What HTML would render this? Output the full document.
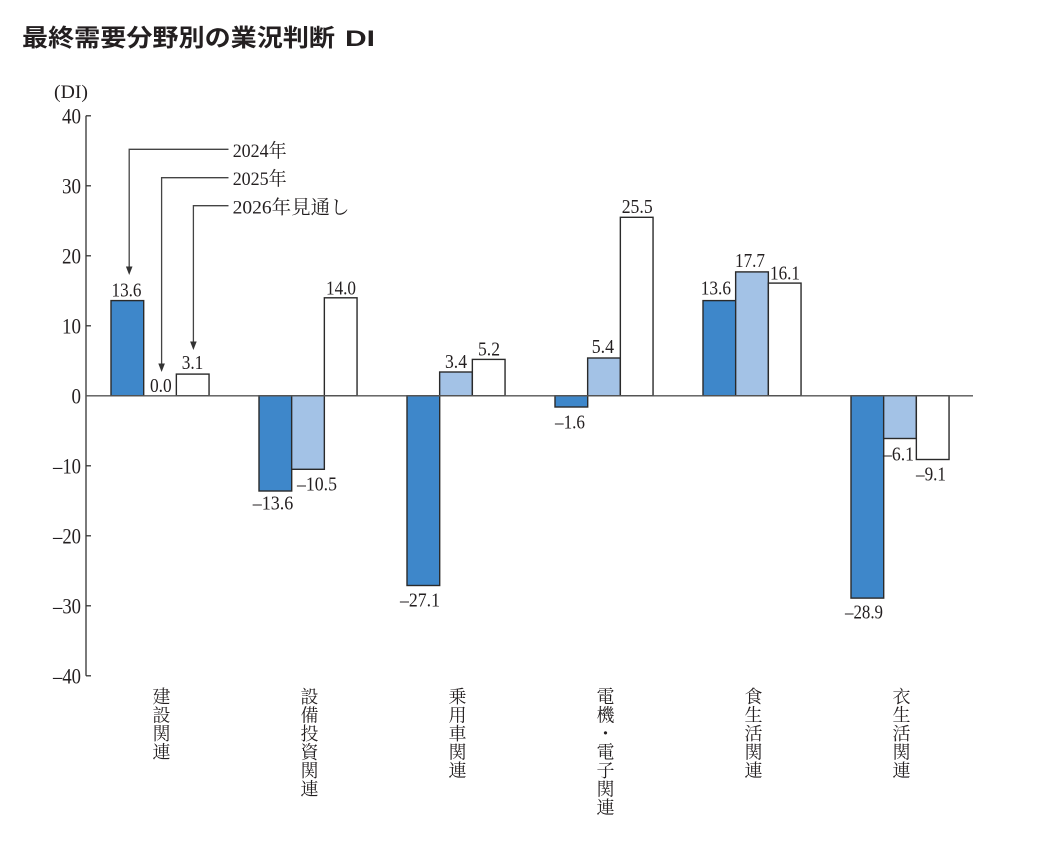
<!DOCTYPE html>
<html>
<head>
<meta charset="utf-8">
<style>
  html, body { margin: 0; padding: 0; background: #ffffff; }
  svg { display: block; }
  .num { font-family: "Liberation Serif", "Noto Serif CJK SC", serif; fill: #231f20; }
  .cat { font-family: "Liberation Serif", "Noto Serif CJK SC", serif; fill: #231f20; font-size: 18px; text-anchor: middle; }
</style>
</head>
<body>
<svg width="1040" height="846" viewBox="0 0 1040 846" xmlns="http://www.w3.org/2000/svg">
  <rect x="0" y="0" width="1040" height="846" fill="#ffffff"/>

  <!-- Title -->
  <text x="22" y="46" font-family="'Noto Sans CJK JP', 'Liberation Sans', sans-serif" font-weight="bold" font-size="24" fill="#231f20" textLength="313" lengthAdjust="spacingAndGlyphs">最終需要分野別の業況判断</text>
  <text x="345" y="46" font-family="'Liberation Sans', sans-serif" font-weight="bold" font-size="22.5" fill="#231f20" textLength="30" lengthAdjust="spacingAndGlyphs">DI</text>

  <!-- unit label -->
  <text class="num" x="54" y="98" font-size="19" textLength="34" lengthAdjust="spacingAndGlyphs">(DI)</text>

  <!-- Y axis -->
  <g stroke="#333" stroke-width="1.3" fill="none">
    <line x1="86" y1="115.8" x2="86" y2="675.8"/>
    <line x1="86" y1="115.8" x2="91" y2="115.8"/>
    <line x1="86" y1="185.8" x2="91" y2="185.8"/>
    <line x1="86" y1="255.8" x2="91" y2="255.8"/>
    <line x1="86" y1="325.8" x2="91" y2="325.8"/>
    <line x1="86" y1="465.8" x2="91" y2="465.8"/>
    <line x1="86" y1="535.8" x2="91" y2="535.8"/>
    <line x1="86" y1="605.8" x2="91" y2="605.8"/>
    <line x1="86" y1="675.8" x2="91" y2="675.8"/>
  </g>
  <g class="num" font-size="22" text-anchor="end">
    <text x="81" y="123.3" textLength="19" lengthAdjust="spacingAndGlyphs">40</text>
    <text x="81" y="193.3" textLength="19" lengthAdjust="spacingAndGlyphs">30</text>
    <text x="81" y="263.3" textLength="19" lengthAdjust="spacingAndGlyphs">20</text>
    <text x="81" y="333.3" textLength="19" lengthAdjust="spacingAndGlyphs">10</text>
    <text x="81" y="403.3" textLength="9.5" lengthAdjust="spacingAndGlyphs">0</text>
    <text x="81" y="473.3" textLength="28" lengthAdjust="spacingAndGlyphs">–10</text>
    <text x="81" y="543.3" textLength="28" lengthAdjust="spacingAndGlyphs">–20</text>
    <text x="81" y="613.3" textLength="28" lengthAdjust="spacingAndGlyphs">–30</text>
    <text x="81" y="683.3" textLength="28" lengthAdjust="spacingAndGlyphs">–40</text>
  </g>

  <!-- Bars -->
  <g stroke="#2a2a2a" stroke-width="1.4">
    <rect x="111" y="300.6" width="32.7" height="95.2" fill="#3e87ca"/>
    <rect x="176.35" y="374.1" width="32.7" height="21.7" fill="#ffffff"/>

    <rect x="259" y="395.8" width="32.7" height="95.2" fill="#3e87ca"/>
    <rect x="291.65" y="395.8" width="32.7" height="73.5" fill="#a3c2e6"/>
    <rect x="324.35" y="297.8" width="32.7" height="98" fill="#ffffff"/>

    <rect x="407" y="395.8" width="32.7" height="189.7" fill="#3e87ca"/>
    <rect x="439.65" y="372" width="32.7" height="23.8" fill="#a3c2e6"/>
    <rect x="472.35" y="359.4" width="32.7" height="36.4" fill="#ffffff"/>

    <rect x="555" y="395.8" width="32.7" height="11.2" fill="#3e87ca"/>
    <rect x="587.65" y="358" width="32.7" height="37.8" fill="#a3c2e6"/>
    <rect x="620.35" y="217.3" width="32.7" height="178.5" fill="#ffffff"/>

    <rect x="703" y="300.6" width="32.7" height="95.2" fill="#3e87ca"/>
    <rect x="735.65" y="271.9" width="32.7" height="123.9" fill="#a3c2e6"/>
    <rect x="768.35" y="283.1" width="32.7" height="112.7" fill="#ffffff"/>

    <rect x="851" y="395.8" width="32.7" height="202.3" fill="#3e87ca"/>
    <rect x="883.65" y="395.8" width="32.7" height="42.7" fill="#a3c2e6"/>
    <rect x="916.35" y="395.8" width="32.7" height="63.7" fill="#ffffff"/>
  </g>

  <!-- zero line -->
  <line x1="86" y1="395.8" x2="973" y2="395.8" stroke="#555" stroke-width="1.4"/>

  <!-- Data labels -->
  <g class="num" font-size="20">
    <text x="111.5" y="296.5" textLength="30" lengthAdjust="spacingAndGlyphs">13.6</text>
    <text x="150" y="392" textLength="21.7" lengthAdjust="spacingAndGlyphs">0.0</text>
    <text x="181.7" y="369" textLength="21.6" lengthAdjust="spacingAndGlyphs">3.1</text>

    <text x="252.7" y="509.5" textLength="40.6" lengthAdjust="spacingAndGlyphs">–13.6</text>
    <text x="297" y="490.5" textLength="40" lengthAdjust="spacingAndGlyphs">–10.5</text>
    <text x="326" y="294.5" textLength="30" lengthAdjust="spacingAndGlyphs">14.0</text>

    <text x="400" y="606.5" textLength="40" lengthAdjust="spacingAndGlyphs">–27.1</text>
    <text x="445" y="368" textLength="22" lengthAdjust="spacingAndGlyphs">3.4</text>
    <text x="478" y="355.5" textLength="22" lengthAdjust="spacingAndGlyphs">5.2</text>

    <text x="555" y="428.5" textLength="30" lengthAdjust="spacingAndGlyphs">–1.6</text>
    <text x="591.7" y="353" textLength="22.3" lengthAdjust="spacingAndGlyphs">5.4</text>
    <text x="621.7" y="213" textLength="31" lengthAdjust="spacingAndGlyphs">25.5</text>

    <text x="700.7" y="294.5" textLength="30.3" lengthAdjust="spacingAndGlyphs">13.6</text>
    <text x="735" y="267" textLength="30" lengthAdjust="spacingAndGlyphs">17.7</text>
    <text x="770" y="279.5" textLength="30" lengthAdjust="spacingAndGlyphs">16.1</text>

    <text x="845" y="618.5" textLength="38" lengthAdjust="spacingAndGlyphs">–28.9</text>
    <text x="883" y="460.5" textLength="31" lengthAdjust="spacingAndGlyphs">–6.1</text>
    <text x="916" y="480.5" textLength="30" lengthAdjust="spacingAndGlyphs">–9.1</text>
  </g>

  <!-- Legend leader lines -->
  <g stroke="#444" stroke-width="1.3" fill="none">
    <polyline points="228.5,149.3 129.2,149.3 129.2,268"/>
    <polyline points="228.5,177.7 161.6,177.7 161.6,365"/>
    <polyline points="228.5,205.7 193.4,205.7 193.4,343"/>
  </g>
  <g fill="#333">
    <polygon points="129.2,275 125.9,266.5 132.5,266.5"/>
    <polygon points="161.6,372 158.3,363.5 164.9,363.5"/>
    <polygon points="193.4,350 190.1,341.5 196.7,341.5"/>
  </g>
  <g class="num" font-size="19">
    <text x="232.7" y="156.8" textLength="54" lengthAdjust="spacingAndGlyphs">2024年</text>
    <text x="232.7" y="185.2" textLength="54" lengthAdjust="spacingAndGlyphs">2025年</text>
    <text x="232.7" y="213.3" textLength="117" lengthAdjust="spacingAndGlyphs">2026年見通し</text>
  </g>

  <!-- Category labels (vertical) -->
  <g class="cat">
    <text x="161.5" y="702.8">建</text>
    <text x="161.5" y="721.3">設</text>
    <text x="161.5" y="739.8">関</text>
    <text x="161.5" y="758.3">連</text>

    <text x="309.5" y="702.8">設</text>
    <text x="309.5" y="721.3">備</text>
    <text x="309.5" y="739.8">投</text>
    <text x="309.5" y="758.3">資</text>
    <text x="309.5" y="776.8">関</text>
    <text x="309.5" y="795.3">連</text>

    <text x="457.5" y="702.8">乗</text>
    <text x="457.5" y="721.3">用</text>
    <text x="457.5" y="739.8">車</text>
    <text x="457.5" y="758.3">関</text>
    <text x="457.5" y="776.8">連</text>

    <text x="605.5" y="702.8">電</text>
    <text x="605.5" y="721.3">機</text>
    <text x="605.5" y="739.8">・</text>
    <text x="605.5" y="758.3">電</text>
    <text x="605.5" y="776.8">子</text>
    <text x="605.5" y="795.3">関</text>
    <text x="605.5" y="813.8">連</text>

    <text x="753.5" y="702.8">食</text>
    <text x="753.5" y="721.3">生</text>
    <text x="753.5" y="739.8">活</text>
    <text x="753.5" y="758.3">関</text>
    <text x="753.5" y="776.8">連</text>

    <text x="901.5" y="702.8">衣</text>
    <text x="901.5" y="721.3">生</text>
    <text x="901.5" y="739.8">活</text>
    <text x="901.5" y="758.3">関</text>
    <text x="901.5" y="776.8">連</text>
  </g>
</svg>
</body>
</html>
